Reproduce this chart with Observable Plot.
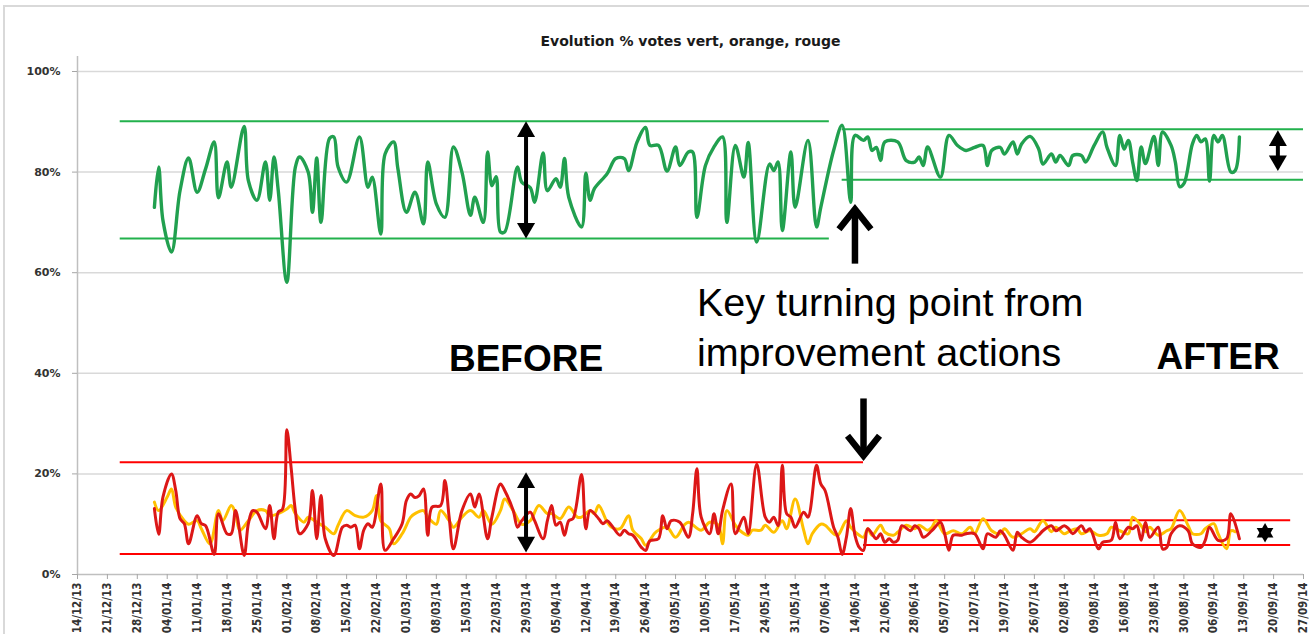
<!DOCTYPE html>
<html>
<head>
<meta charset="utf-8">
<script src="https://cdn.jsdelivr.net/npm/d3@7"></script>
<script src="https://cdn.jsdelivr.net/npm/@observablehq/plot@0.6"></script>
<style>
  html, body { margin: 0; padding: 0; background: #fff; overflow: hidden; }
  #wrap { position: relative; width: 1309px; height: 634px; }
  #outer { position: absolute; left: 3px; top: 5px; width: 1320px; height: 640px;
           border-top: 2px solid #d9d9d9; border-left: 2px solid #d9d9d9; pointer-events: none; }
  #chart { position: absolute; left: 0; top: 0; }
</style>
</head>
<body>
<div id="wrap"><div id="outer"></div><div id="chart"></div></div>
<script>
const title = "Evolution % votes vert, orange, rouge";

const xDomain = ["2013-12-14", "2014-09-27"];
const weekTicks = [
  "2013-12-14","2013-12-21","2013-12-28","2014-01-04","2014-01-11","2014-01-18","2014-01-25",
  "2014-02-01","2014-02-08","2014-02-15","2014-02-22","2014-03-01","2014-03-08","2014-03-15",
  "2014-03-22","2014-03-29","2014-04-05","2014-04-12","2014-04-19","2014-04-26","2014-05-03",
  "2014-05-10","2014-05-17","2014-05-24","2014-05-31","2014-06-07","2014-06-14","2014-06-21",
  "2014-06-28","2014-07-05","2014-07-12","2014-07-19","2014-07-26","2014-08-02","2014-08-09",
  "2014-08-16","2014-08-23","2014-08-30","2014-09-06","2014-09-13","2014-09-20","2014-09-27"
];
const yTicks = [0, 0.2, 0.4, 0.6, 0.8, 1];

// % votes "vert" (green)
const greenVotes = [
  ["2014-01-01",73.0],["2014-01-02",81.0],["2014-01-03",70.4],["2014-01-05",64.1],["2014-01-07",76.3],
  ["2014-01-09",82.8],["2014-01-11",76.0],["2014-01-13",80.7],["2014-01-15",86.0],["2014-01-16",74.9],
  ["2014-01-18",82.0],["2014-01-19",77.0],["2014-01-22",89.1],["2014-01-23",78.3],["2014-01-25",74.4],
  ["2014-01-27",82.0],["2014-01-28",74.4],["2014-01-29",83.0],["2014-01-30",76.3],["2014-02-01",58.1],
  ["2014-02-03",81.0],["2014-02-04",83.0],["2014-02-06",80.0],["2014-02-07",72.0],["2014-02-08",82.8],
  ["2014-02-09",70.0],["2014-02-11",86.7],["2014-02-12",87.0],["2014-02-13",81.0],["2014-02-15",78.0],
  ["2014-02-18",87.0],["2014-02-20",77.0],["2014-02-21",79.0],["2014-02-23",67.7],["2014-02-24",83.6],
  ["2014-02-26",86.0],["2014-02-27",80.7],["2014-03-01",72.0],["2014-03-03",76.0],["2014-03-05",69.7],
  ["2014-03-06",82.0],["2014-03-08",73.7],["2014-03-10",71.0],["2014-03-12",85.0],["2014-03-14",80.0],
  ["2014-03-16",71.4],["2014-03-17",75.0],["2014-03-19",70.0],["2014-03-20",84.0],["2014-03-21",77.3],
  ["2014-03-22",79.1],["2014-03-23",68.1],["2014-03-24",68.1],["2014-03-27",81.0],["2014-03-28",78.0],
  ["2014-03-30",76.9],["2014-03-31",74.0],["2014-04-02",83.8],["2014-04-03",76.3],["2014-04-05",78.7],
  ["2014-04-06",77.0],["2014-04-07",82.7],["2014-04-08",75.0],["2014-04-11",69.1],["2014-04-12",79.8],
  ["2014-04-13",74.4],["2014-04-14",76.7],["2014-04-17",79.7],["2014-04-19",82.7],["2014-04-21",82.7],
  ["2014-04-22",80.3],["2014-04-24",86.0],["2014-04-26",88.9],["2014-04-27",85.3],["2014-04-29",85.3],
  ["2014-05-01",80.2],["2014-05-03",85.0],["2014-05-04",81.3],["2014-05-06",84.0],["2014-05-07",84.0],
  ["2014-05-08",71.0],["2014-05-10",81.3],["2014-05-12",85.0],["2014-05-14",87.0],["2014-05-15",70.0],
  ["2014-05-17",85.3],["2014-05-19",79.0],["2014-05-20",85.9],["2014-05-22",66.1],["2014-05-25",81.6],
  ["2014-05-26",80.3],["2014-05-27",82.0],["2014-05-28",68.4],["2014-05-30",84.0],["2014-05-31",73.0],
  ["2014-06-03",86.3],["2014-06-05",69.1],["2014-06-06",73.0],["2014-06-09",84.3],["2014-06-11",89.3],
  ["2014-06-13",74.0],["2014-06-14",87.3],["2014-06-16",86.3],["2014-06-17",87.0],["2014-06-18",84.3],
  ["2014-06-19",84.9],["2014-06-20",82.3],["2014-06-21",86.0],["2014-06-24",86.0],["2014-06-26",82.3],
  ["2014-06-28",82.0],["2014-06-29",83.0],["2014-06-30",81.3],["2014-07-01",85.0],["2014-07-04",79.0],
  ["2014-07-06",87.3],["2014-07-08",85.3],["2014-07-10",84.3],["2014-07-12",84.9],["2014-07-14",85.3],
  ["2014-07-15",81.3],["2014-07-16",84.3],["2014-07-18",84.9],["2014-07-19",83.6],["2014-07-21",86.0],
  ["2014-07-22",83.6],["2014-07-23",85.6],["2014-07-25",87.1],["2014-07-27",84.6],["2014-07-28",81.6],
  ["2014-07-30",83.6],["2014-07-31",82.0],["2014-08-01",83.3],["2014-08-03",81.3],["2014-08-04",83.3],
  ["2014-08-06",83.3],["2014-08-07",82.0],["2014-08-09",85.3],["2014-08-11",88.0],["2014-08-12",84.9],
  ["2014-08-14",81.3],["2014-08-15",87.3],["2014-08-16",84.6],["2014-08-17",86.3],["2014-08-18",82.0],
  ["2014-08-19",78.3],["2014-08-20",85.0],["2014-08-21",81.7],["2014-08-23",87.1],["2014-08-24",81.3],
  ["2014-08-25",88.0],["2014-08-27",85.3],["2014-08-28",82.0],["2014-08-29",77.1],["2014-08-30",77.7],
  ["2014-09-01",85.6],["2014-09-02",87.3],["2014-09-03",86.0],["2014-09-04",86.6],["2014-09-05",78.2],
  ["2014-09-06",87.3],["2014-09-07",86.0],["2014-09-08",87.3],["2014-09-10",80.0],["2014-09-11",80.3],
  ["2014-09-12",87.0]
];

// % votes "orange"
const orangeVotes = [
  ["2014-01-01",14.4],["2014-01-02",12.7],["2014-01-04",15.4],["2014-01-05",17.0],["2014-01-06",13.4],
  ["2014-01-08",10.7],["2014-01-09",10.0],["2014-01-11",10.7],["2014-01-12",9.1],["2014-01-14",6.1],
  ["2014-01-16",12.7],["2014-01-17",10.7],["2014-01-19",13.7],["2014-01-20",12.1],["2014-01-21",8.8],
  ["2014-01-23",10.7],["2014-01-25",12.7],["2014-01-27",12.7],["2014-01-28",11.7],["2014-01-30",12.1],
  ["2014-02-01",13.0],["2014-02-02",13.7],["2014-02-03",12.1],["2014-02-05",10.4],["2014-02-06",11.4],
  ["2014-02-08",10.4],["2014-02-10",9.4],["2014-02-12",8.1],["2014-02-13",9.8],["2014-02-15",12.7],
  ["2014-02-17",11.7],["2014-02-19",11.4],["2014-02-21",12.7],["2014-02-22",15.7],["2014-02-23",10.7],
  ["2014-02-25",9.1],["2014-02-26",6.1],["2014-02-28",8.1],["2014-03-02",11.4],["2014-03-03",12.1],
  ["2014-03-05",12.7],["2014-03-06",11.4],["2014-03-08",10.0],["2014-03-09",12.7],["2014-03-11",10.7],
  ["2014-03-12",9.4],["2014-03-14",11.4],["2014-03-16",12.7],["2014-03-18",11.4],["2014-03-19",12.7],
  ["2014-03-21",10.0],["2014-03-23",12.7],["2014-03-24",15.0],["2014-03-26",12.7],["2014-03-28",10.0],
  ["2014-03-30",10.7],["2014-04-01",13.7],["2014-04-03",12.1],["2014-04-04",12.1],["2014-04-06",11.1],
  ["2014-04-08",13.4],["2014-04-10",11.4],["2014-04-11",11.4],["2014-04-13",12.7],["2014-04-14",12.1],
  ["2014-04-15",13.7],["2014-04-17",10.4],["2014-04-18",9.4],["2014-04-20",9.1],["2014-04-22",11.7],
  ["2014-04-23",8.8],["2014-04-25",7.1],["2014-04-26",5.8],["2014-04-28",8.1],["2014-04-29",8.8],
  ["2014-05-01",9.4],["2014-05-03",7.4],["2014-05-05",9.8],["2014-05-06",10.4],["2014-05-09",8.8],
  ["2014-05-11",10.4],["2014-05-13",9.8],["2014-05-14",6.1],["2014-05-15",12.7],["2014-05-17",9.8],
  ["2014-05-18",8.8],["2014-05-20",7.8],["2014-05-21",8.8],["2014-05-23",8.8],["2014-05-24",9.8],
  ["2014-05-26",8.4],["2014-05-28",10.7],["2014-05-29",9.1],["2014-05-31",15.0],["2014-06-02",8.8],
  ["2014-06-03",6.1],["2014-06-04",8.1],["2014-06-06",10.0],["2014-06-07",9.8],["2014-06-09",8.1],
  ["2014-06-10",7.8],["2014-06-12",10.7],["2014-06-13",9.4],["2014-06-15",7.8],["2014-06-16",7.4],
  ["2014-06-17",9.1],["2014-06-18",7.8],["2014-06-20",9.8],["2014-06-21",8.4],["2014-06-23",7.8],
  ["2014-06-24",8.4],["2014-06-26",9.8],["2014-06-28",9.1],["2014-06-29",9.8],["2014-07-01",8.8],
  ["2014-07-02",9.4],["2014-07-03",10.7],["2014-07-05",8.1],["2014-07-07",8.7],["2014-07-09",8.1],
  ["2014-07-11",9.4],["2014-07-12",8.1],["2014-07-14",11.1],["2014-07-16",8.7],["2014-07-18",8.1],
  ["2014-07-19",9.1],["2014-07-21",7.4],["2014-07-23",8.1],["2014-07-25",9.1],["2014-07-26",8.5],
  ["2014-07-28",10.7],["2014-07-30",8.5],["2014-07-31",9.4],["2014-08-02",8.1],["2014-08-03",8.5],
  ["2014-08-05",9.1],["2014-08-06",8.1],["2014-08-08",8.7],["2014-08-10",7.8],["2014-08-12",8.1],
  ["2014-08-13",9.4],["2014-08-15",8.7],["2014-08-17",8.1],["2014-08-18",11.4],["2014-08-20",9.7],
  ["2014-08-21",8.5],["2014-08-22",9.4],["2014-08-24",7.8],["2014-08-26",8.7],["2014-08-27",9.1],
  ["2014-08-29",12.7],["2014-08-31",9.7],["2014-09-01",8.1],["2014-09-03",8.1],["2014-09-04",9.1],
  ["2014-09-06",10.1],["2014-09-07",8.1],["2014-09-09",5.1],["2014-09-10",8.7],["2014-09-11",8.5]
];

// % votes "rouge" (red)
const redVotes = [
  ["2014-01-01",13.1],["2014-01-02",8.0],["2014-01-03",15.4],["2014-01-05",20.0],["2014-01-06",16.7],
  ["2014-01-07",11.1],["2014-01-08",10.1],["2014-01-09",6.1],["2014-01-11",11.7],["2014-01-12",10.1],
  ["2014-01-13",9.7],["2014-01-15",4.0],["2014-01-16",12.1],["2014-01-18",8.1],["2014-01-19",8.1],
  ["2014-01-20",12.7],["2014-01-22",3.8],["2014-01-23",10.1],["2014-01-24",12.7],["2014-01-25",12.4],
  ["2014-01-27",9.1],["2014-01-28",13.7],["2014-01-29",7.1],["2014-01-30",12.4],["2014-01-31",13.0],
  ["2014-02-01",28.8],["2014-02-02",21.3],["2014-02-03",12.7],["2014-02-04",8.1],["2014-02-06",10.1],
  ["2014-02-07",16.7],["2014-02-08",7.1],["2014-02-09",15.7],["2014-02-10",7.1],["2014-02-12",3.8],
  ["2014-02-14",9.4],["2014-02-15",9.8],["2014-02-16",9.4],["2014-02-17",9.8],["2014-02-18",5.1],
  ["2014-02-19",8.8],["2014-02-20",10.1],["2014-02-21",9.4],["2014-02-23",18.0],["2014-02-24",4.8],
  ["2014-02-26",7.1],["2014-02-28",10.1],["2014-03-01",14.7],["2014-03-02",16.0],["2014-03-03",15.3],
  ["2014-03-04",15.7],["2014-03-05",17.0],["2014-03-06",7.8],["2014-03-07",13.4],["2014-03-09",13.7],
  ["2014-03-10",18.7],["2014-03-11",11.4],["2014-03-12",5.1],["2014-03-14",12.7],["2014-03-16",16.0],
  ["2014-03-17",13.4],["2014-03-18",16.0],["2014-03-20",7.1],["2014-03-21",11.4],["2014-03-23",18.0],
  ["2014-03-24",16.7],["2014-03-26",12.7],["2014-03-27",9.4],["2014-03-28",10.7],["2014-03-30",12.4],
  ["2014-03-31",10.7],["2014-04-02",7.1],["2014-04-03",10.7],["2014-04-04",13.7],["2014-04-05",9.8],
  ["2014-04-06",10.4],["2014-04-07",7.8],["2014-04-08",10.7],["2014-04-09",11.1],["2014-04-11",19.9],
  ["2014-04-12",9.1],["2014-04-13",12.7],["2014-04-15",11.1],["2014-04-16",10.1],["2014-04-17",10.7],
  ["2014-04-18",9.8],["2014-04-20",7.8],["2014-04-21",8.8],["2014-04-22",8.1],["2014-04-23",7.8],
  ["2014-04-25",5.4],["2014-04-26",4.8],["2014-04-27",6.7],["2014-04-29",7.1],["2014-04-30",11.7],
  ["2014-05-01",9.1],["2014-05-02",10.7],["2014-05-04",10.4],["2014-05-06",7.4],["2014-05-07",12.1],
  ["2014-05-08",21.0],["2014-05-09",11.4],["2014-05-11",8.1],["2014-05-12",12.1],["2014-05-13",8.1],
  ["2014-05-14",12.7],["2014-05-16",18.0],["2014-05-17",8.1],["2014-05-19",11.4],["2014-05-20",8.1],
  ["2014-05-22",21.9],["2014-05-24",11.4],["2014-05-25",10.4],["2014-05-26",11.4],["2014-05-27",9.7],
  ["2014-05-28",21.7],["2014-05-29",12.1],["2014-05-30",11.4],["2014-05-31",9.4],["2014-06-02",12.4],
  ["2014-06-03",11.4],["2014-06-05",21.7],["2014-06-06",18.0],["2014-06-07",16.7],["2014-06-09",9.4],
  ["2014-06-10",7.4],["2014-06-11",4.0],["2014-06-12",7.4],["2014-06-13",13.1],["2014-06-14",7.8],
  ["2014-06-15",5.4],["2014-06-16",4.8],["2014-06-17",9.1],["2014-06-19",7.1],["2014-06-20",8.1],
  ["2014-06-21",6.4],["2014-06-22",7.1],["2014-06-23",6.4],["2014-06-24",6.8],["2014-06-25",9.7],
  ["2014-06-27",8.7],["2014-06-28",9.7],["2014-06-29",9.1],["2014-06-30",7.4],["2014-07-02",8.7],
  ["2014-07-04",10.4],["2014-07-05",8.1],["2014-07-06",4.8],["2014-07-07",7.8],["2014-07-09",7.8],
  ["2014-07-10",8.1],["2014-07-12",8.1],["2014-07-14",5.1],["2014-07-15",8.1],["2014-07-17",7.4],
  ["2014-07-18",8.7],["2014-07-19",7.8],["2014-07-21",4.8],["2014-07-22",8.4],["2014-07-23",7.4],
  ["2014-07-25",6.4],["2014-07-27",7.8],["2014-07-28",8.7],["2014-07-30",9.7],["2014-07-31",8.7],
  ["2014-08-02",9.7],["2014-08-03",9.1],["2014-08-04",8.1],["2014-08-06",9.7],["2014-08-07",8.5],
  ["2014-08-08",9.1],["2014-08-10",5.1],["2014-08-11",6.4],["2014-08-13",6.8],["2014-08-14",10.4],
  ["2014-08-15",7.1],["2014-08-17",9.4],["2014-08-18",9.1],["2014-08-19",9.7],["2014-08-20",6.8],
  ["2014-08-21",10.4],["2014-08-22",7.4],["2014-08-24",9.4],["2014-08-25",5.1],["2014-08-26",5.4],
  ["2014-08-27",8.1],["2014-08-29",9.7],["2014-08-31",8.7],["2014-09-01",6.1],["2014-09-03",5.4],
  ["2014-09-04",6.8],["2014-09-05",9.4],["2014-09-07",6.8],["2014-09-09",7.1],["2014-09-10",12.1],
  ["2014-09-12",7.1]
];

// Band limits [start, end, %]
const greenBands = [
  ["2013-12-24","2014-06-08",90.1],["2013-12-24","2014-06-08",66.8],
  ["2014-06-11","2014-09-27",88.5],["2014-06-11","2014-09-27",78.5]
];
const redBands = [
  ["2013-12-24","2014-06-16",22.3],["2013-12-24","2014-06-16",4.1],
  ["2014-06-16","2014-09-24",10.8],["2014-06-16","2014-09-24",5.85]
];
// Spread markers [date, top %, bottom %]
const spreadArrows = [
  ["2014-03-29",90.1,66.8],["2014-03-29",20.3,4.4],["2014-09-21",88.3,80.2]
];
// Turning point arrows [date, from %, to %]
const turnArrows = [
  ["2014-06-14",61.8,72.6],["2014-06-16",35.0,23.6]
];
const starMarker = [["2014-09-18",8.3]];
const noteLines = [
  ["Key turning point from","2014-05-08",51.3],
  ["improvement actions","2014-05-08",41.4]
];
const phaseLabels = [
  ["BEFORE","2014-03-29",40.4],
  ["AFTER","2014-09-07",40.8]
];

// ---- build rows ----
const parse = d3.utcParse("%Y-%m-%d");
const rows = arr => arr.map(([d, v]) => ({date: parse(d), value: v / 100}));
const green = rows(greenVotes), orange = rows(orangeVotes), red = rows(redVotes);
const bands = arr => arr.map(([a, b, v]) => ({start: parse(a), end: parse(b), value: v / 100}));
const spreads = spreadArrows.map(([d, t, b]) => ({date: parse(d), top: t / 100, bottom: b / 100}));
const turns = turnArrows.map(([d, f, t]) => ({date: parse(d), from: f / 100, to: t / 100}));
const star = starMarker.map(([d, v]) => ({date: parse(d), value: v / 100}));
const notes = noteLines.map(([t, d, v]) => ({text: t, date: parse(d), value: v / 100}));
const phases = phaseLabels.map(([t, d, v]) => ({text: t, date: parse(d), value: v / 100}));

const chevron = { draw(ctx) { ctx.moveTo(-16, 20); ctx.lineTo(0, 0); ctx.lineTo(16, 20); } };

const chart = Plot.plot({
  width: 1309,
  height: 634,
  marginLeft: 77,
  marginRight: 6,
  marginTop: 71,
  marginBottom: 60,
  style: {background: "transparent", color: "#262626", fontFamily: "'DejaVu Sans', sans-serif", overflow: "visible"},
  x: {type: "utc", domain: xDomain.map(parse)},
  y: {domain: [0, 1]},
  marks: [
    Plot.gridY(yTicks.filter(t => t > 0), {stroke: "#d9d9d9", strokeOpacity: 1, strokeWidth: 1.5}),
    Plot.ruleX([parse(xDomain[0])], {y1: 0, y2: 1.03, stroke: "#bfbfbf", strokeWidth: 1.5}),
    Plot.ruleY([0], {stroke: "#bfbfbf", strokeWidth: 1.5}),
    Plot.axisX({ticks: weekTicks.map(parse), tickFormat: d3.utcFormat("%d/%m/%y"), tickRotate: -90,
      tickSize: 5, tickPadding: 3, stroke: "#a6a6a6", fill: "#333", fontSize: 11.5, fontWeight: "bold",
      fontFamily: "'DejaVu Sans Condensed', 'Liberation Sans', sans-serif", label: null}),
    Plot.axisY({ticks: yTicks, tickFormat: d3.format(".0%"), tickSize: 5, tickPadding: 12,
      stroke: "#a6a6a6", fill: "#333", fontSize: 11, fontWeight: "bold", label: null}),
    // band limit lines
    Plot.ruleY(bands(greenBands), {y: "value", x1: "start", x2: "end", stroke: "#22b14c", strokeWidth: 2}),
    Plot.ruleY(bands(redBands), {y: "value", x1: "start", x2: "end", stroke: "#ff0000", strokeWidth: 2}),
    // series
    Plot.line(green, {x: "date", y: "value", stroke: "#21a04f", strokeWidth: 3.4, curve: "catmull-rom"}),
    Plot.line(orange, {x: "date", y: "value", stroke: "#ffc000", strokeWidth: 3, curve: "catmull-rom"}),
    Plot.line(red, {x: "date", y: "value", stroke: "#dc1717", strokeWidth: 3, curve: "catmull-rom"}),
    // spread double arrows
    Plot.ruleX(spreads, {x: "date", y1: "top", y2: "bottom", stroke: "black", strokeWidth: 4, insetTop: 8, insetBottom: 8}),
    Plot.dot(spreads, {x: "date", y: "top", symbol: "triangle", r: 6.7, dy: 10.4, fill: "black", stroke: "none"}),
    Plot.dot(spreads, {x: "date", y: "bottom", symbol: "triangle", r: 6.7, dy: -10.4, rotate: 180, fill: "black", stroke: "none"}),
    // star marker (two triangles)
    Plot.dot(star, {x: "date", y: "value", symbol: "triangle", r: 6.2, fill: "black", stroke: "none"}),
    Plot.dot(star, {x: "date", y: "value", symbol: "triangle", r: 6.2, rotate: 180, fill: "black", stroke: "none"}),
    // turning point arrows
    Plot.link(turns, {x1: "date", x2: "date", y1: "from", y2: "to", stroke: "black", strokeWidth: 6.5}),
    Plot.dot(turns.filter(d => d.to > d.from), {x: "date", y: "to", symbol: chevron, fill: "none", stroke: "black", strokeWidth: 6.5, strokeLinejoin: "miter"}),
    Plot.dot(turns.filter(d => d.to < d.from), {x: "date", y: "to", symbol: chevron, rotate: 180, fill: "none", stroke: "black", strokeWidth: 6.5, strokeLinejoin: "miter"}),
    // texts
    Plot.text(notes, {x: "date", y: "value", text: "text", textAnchor: "start", lineAnchor: "bottom",
      fontSize: 39.5, fill: "black", fontFamily: "'Liberation Sans', Arial, sans-serif"}),
    Plot.text(phases, {x: "date", y: "value", text: "text", textAnchor: "middle", lineAnchor: "bottom",
      fontSize: 37, fontWeight: "bold", fill: "black", fontFamily: "'Liberation Sans', Arial, sans-serif"}),
    Plot.text([title], {frameAnchor: "top", dy: -30, lineAnchor: "middle", fontSize: 14, fontWeight: "bold",
      fill: "#1a1a1a", fontFamily: "'DejaVu Sans', sans-serif"})
  ]
});
document.getElementById("chart").appendChild(chart);
</script>
</body>
</html>
